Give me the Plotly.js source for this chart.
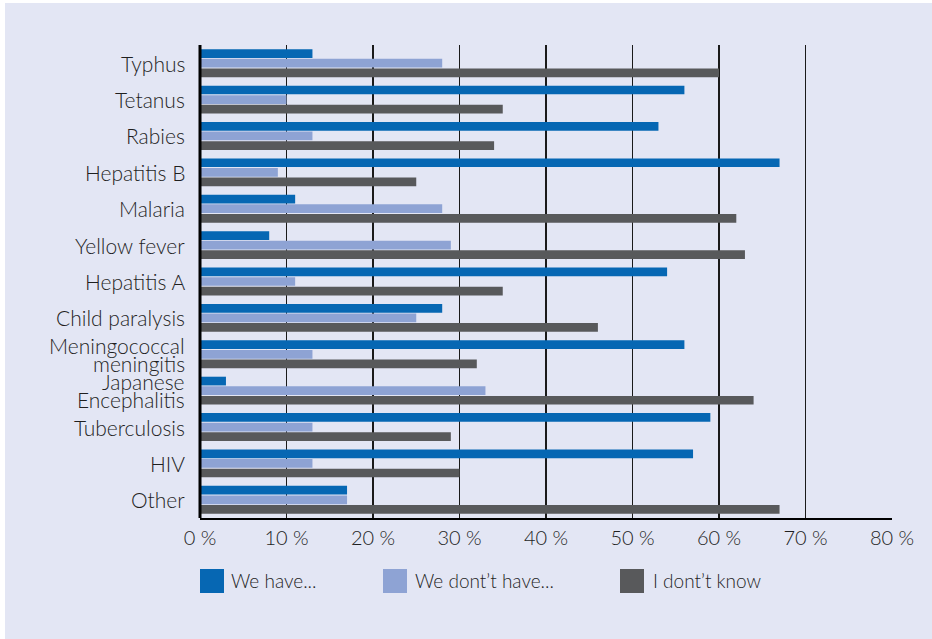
<!DOCTYPE html>
<html><head><meta charset="utf-8">
<script src="https://cdn.plot.ly/plotly-3.0.1.min.js"></script>
<style>
html,body{margin:0;padding:0;background:#ffffff;}
#chart{position:absolute;left:5px;top:3px;width:927px;height:636px;}
</style></head>
<body><div id="chart"></div>
<script>
const categories = ["Typhus","Tetanus","Rabies","Hepatitis B","Malaria","Yellow fever","Hepatitis A","Child paralysis","Meningococcal meningitis","Japanese Encephalitis","Tuberculosis","HIV","Other"];
const categoryLines = [["Typhus"],["Tetanus"],["Rabies"],["Hepatitis B"],["Malaria"],["Yellow fever"],["Hepatitis A"],["Child paralysis"],["Meningococcal","meningitis"],["Japanese","Encephalitis"],["Tuberculosis"],["HIV"],["Other"]];
const weHave     = [13, 56, 53, 67, 11, 8, 54, 28, 56, 3, 59, 57, 17];
const weDontHave = [28, 10, 13, 9, 28, 29, 11, 25, 13, 33, 13, 13, 17];
const dontKnow   = [60, 35, 34, 25, 62, 63, 35, 46, 32, 64, 29, 30, 67];
const seriesNames = ["We have...", "We dont’t have...", "I dont’t know"];
const colors = ["#0667b3", "#8ea3d4", "#58595b"];
const tickVals = [0,10,20,30,40,50,60,70,80];
const tickText = ["0 %","10 %","20 %","30 %","40 %","50 %","60 %","70 %","80 %"];

const W = 927, H = 636;
const M = {l:195, r:40, t:42, b:121};
const pw = W - M.l - M.r, ph = H - M.t - M.b;
const px = x => (x - M.l) / pw;
const py = y => (H - M.b - y) / ph;

const series = [weHave, weDontHave, dontKnow];
const traces = series.map((vals, i) => ({
  type: 'bar', orientation: 'h', x: vals, y: categories,
  name: seriesNames[i], marker: {color: colors[i], line: {width: 0}},
  showlegend: false, hoverinfo: 'x+y'
}));

const font = {family: "Lato, 'Open Sans', sans-serif", color: '#1f1f1f', weight: 300};
const shapes = [], annotations = [];
const legX = [[195, 219, 224], [378, 402, 408], [615, 639, 646]];
legX.forEach((lx, i) => {
  shapes.push({type:'rect', xref:'paper', yref:'paper', x0:px(lx[0]), x1:px(lx[1]), y0:py(590), y1:py(566), fillcolor:colors[i], line:{width:0}});
  annotations.push({xref:'paper', yref:'paper', x:px(lx[2]), y:py(577), xanchor:'left', yanchor:'middle', text:seriesNames[i], showarrow:false, font:{...font, size:19}});
});
// category labels with tight line spacing
categoryLines.forEach((lines, i) => {
  const n = lines.length;
  lines.forEach((t, j) => {
    annotations.push({xref:'paper', yref:'y', x:px(182), y:categories[i], xanchor:'right', yanchor:'middle',
      yshift: (n - 1) * 9 - j * 18, text:t, showarrow:false, font:{...font, size:21}});
  });
});

const layout = {
  width: W, height: H,
  margin: M,
  paper_bgcolor: '#e3e6f4', plot_bgcolor: '#e3e6f4',
  barmode: 'group', bargap: 0.21, bargroupgap: 0.09,
  font: font,
  xaxis: {
    range: [0, 80], tickvals: tickVals, ticktext: tickText,
    showgrid: true, gridcolor: '#1a1a1a', gridwidth: 1.5,
    showline: true, linecolor: '#000000', linewidth: 2,
    zeroline: false, ticks: '', ticklabelstandoff: 1,
    tickfont: {...font, size: 20}, fixedrange: true
  },
  yaxis: {
    autorange: 'reversed', showgrid: false, zeroline: false,
    showline: false, ticks: '', showticklabels: false, fixedrange: true
  },
  shapes: shapes.concat([{type:'line', xref:'paper', yref:'paper', x0:0, x1:0, y0:0, y1:1, line:{color:'#000000', width:3}}]),
  annotations: annotations
};

Plotly.newPlot('chart', traces, layout, {displayModeBar: false, staticPlot: true});
</script></body></html>
